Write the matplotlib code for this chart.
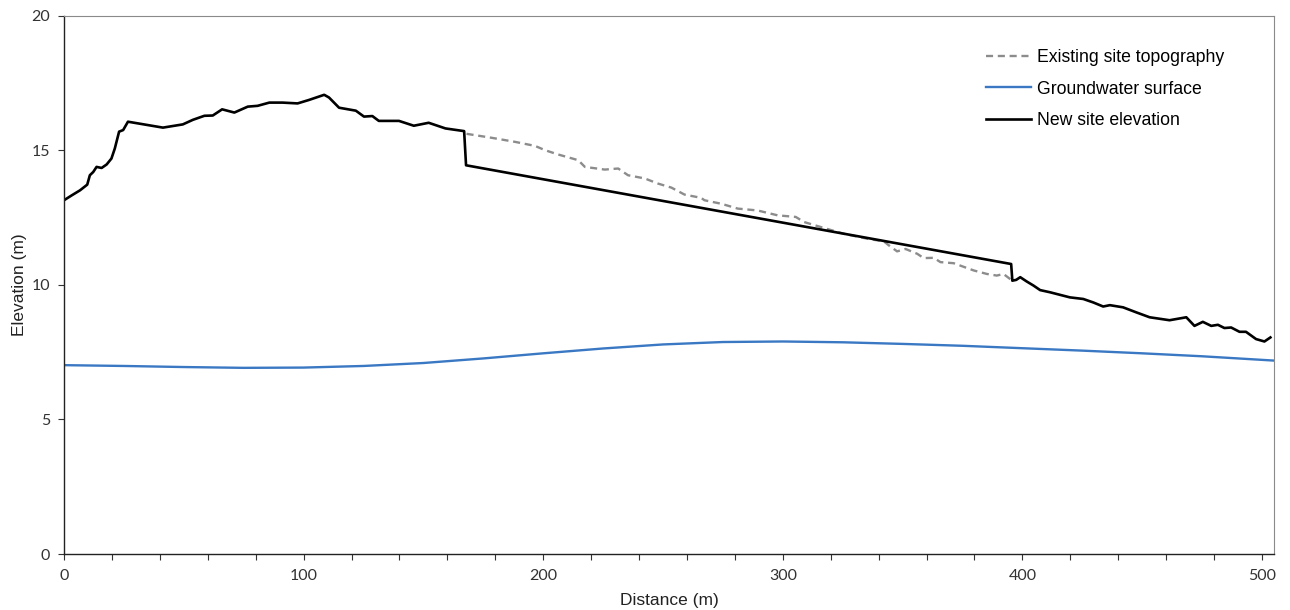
import matplotlib
matplotlib.use("Agg")
import matplotlib.pyplot as plt
from matplotlib.ticker import MultipleLocator

# New site elevation profile (distance m, elevation m)
new_x = [0, 3.2, 6.7, 9.7, 10.8, 12.2, 13.6, 15.7, 17.8, 19.8, 21.2, 23.0, 24.7, 26.7,
         41.3, 49.6, 53.8, 58.6, 62.1, 66.0, 71.1, 76.7, 80.8, 85.7, 91.2, 97.5, 102.3,
         108.6, 110.6, 114.8, 121.8, 125.2, 128.7, 131.4, 139.8, 146.0, 152.2, 159.2,
         167.0, 167.8, 395.3, 395.8, 397.4, 399.1, 401.8, 404.6, 407.4, 411.5, 419.8,
         425.4, 429.6, 433.7, 436.5, 442.0, 447.6, 453.1, 461.4, 468.4, 471.8, 475.3,
         478.8, 481.6, 484.3, 487.1, 490.6, 493.3, 497.5, 501.0, 503.5]
new_y = [13.15, 13.33, 13.52, 13.73, 14.08, 14.20, 14.39, 14.35, 14.48, 14.70, 15.07, 15.70,
         15.76, 16.07, 15.85, 15.97, 16.14, 16.29, 16.30, 16.53, 16.41, 16.63, 16.66, 16.78,
         16.78, 16.75, 16.88, 17.07, 16.97, 16.59, 16.48, 16.26, 16.28, 16.10, 16.10, 15.92,
         16.03, 15.82, 15.72, 14.45, 10.78, 10.16, 10.19, 10.29, 10.13, 9.98, 9.81, 9.73,
         9.54, 9.48, 9.35, 9.20, 9.25, 9.17, 8.98, 8.80, 8.69, 8.80, 8.48, 8.63, 8.48, 8.52,
         8.40, 8.42, 8.26, 8.26, 7.99, 7.90, 8.05]

# Existing site topography where it differs from the new elevation
ex_x = [168.0, 178.6, 188.3, 196.6, 200.8, 206.3, 214.6, 217.4, 225.7, 231.3, 235.4, 242.4,
        247.9, 253.5, 259.0, 265.9, 267.3, 274.3, 281.2, 289.5, 297.8, 305.4, 308.9, 316.0,
        325.6, 335.3, 342.2, 344.3, 347.7, 351.2, 356.1, 358.8, 363.0, 365.8, 371.3, 374.1,
        379.7, 385.2, 389.3, 392.1, 394.9, 395.8]
ex_y = [15.62, 15.47, 15.32, 15.17, 15.01, 14.85, 14.64, 14.39, 14.29, 14.33, 14.08, 13.96,
        13.77, 13.62, 13.36, 13.24, 13.15, 13.02, 12.84, 12.77, 12.59, 12.53, 12.34, 12.15,
        11.90, 11.72, 11.62, 11.47, 11.25, 11.34, 11.16, 11.00, 11.01, 10.85, 10.81, 10.72,
        10.54, 10.41, 10.35, 10.41, 10.22, 10.16]

# Groundwater surface
gw_x = [0, 25, 50, 75, 100, 125, 150, 175, 200, 225, 250, 275, 300, 325, 350, 375, 400,
        425, 450, 475, 505]
gw_y = [7.02, 6.99, 6.95, 6.92, 6.93, 6.99, 7.10, 7.27, 7.46, 7.64, 7.79, 7.88, 7.90, 7.87,
        7.81, 7.74, 7.65, 7.56, 7.46, 7.35, 7.19]

labels = ["Existing site topography", "Groundwater surface", "New site elevation"]

fig = plt.figure(figsize=(12.9, 6.1), dpi=100)
ax = fig.add_axes([0.0496, 0.0918, 0.9380, 0.8820])

ax.plot(ex_x, ex_y, color="#8c8c8c", lw=1.7, dashes=(3, 2), label=labels[0])
ax.plot(gw_x, gw_y, color="#3a78c3", lw=1.7, label=labels[1])
ax.plot(new_x, new_y, color="black", lw=1.9, label=labels[2])

ax.set_xlim(0, 505)
ax.set_ylim(0, 20)
ax.xaxis.set_major_locator(MultipleLocator(100))
ax.xaxis.set_minor_locator(MultipleLocator(20))
ax.yaxis.set_major_locator(MultipleLocator(5))
ax.tick_params(axis="both", which="both", direction="out", colors="#333333",
               labelsize=11.5, length=4, width=0.8)
ax.tick_params(axis="x", which="major", pad=7)
ax.tick_params(axis="y", which="major", pad=6)
for t in ax.get_xticklabels() + ax.get_yticklabels():
    t.set_family("Lato")

for side in ("left", "bottom"):
    ax.spines[side].set_color("#222222")
    ax.spines[side].set_linewidth(1.0)
for side in ("top", "right"):
    ax.spines[side].set_color("#8a8a8a")
    ax.spines[side].set_linewidth(0.8)

ax.set_xlabel("Distance (m)", fontsize=12.5, family="Liberation Sans", color="#222222",
              labelpad=7)
ax.set_ylabel("Elevation (m)", fontsize=12.5, family="Liberation Sans", color="#222222",
              labelpad=3)

leg = ax.legend(loc="upper left", bbox_to_anchor=(0.749, 0.968), frameon=False,
                prop={"family": "Liberation Sans", "size": 12.7},
                handlelength=2.55, handletextpad=0.34, labelspacing=0.82)

fig.savefig("out.png", dpi=100)
